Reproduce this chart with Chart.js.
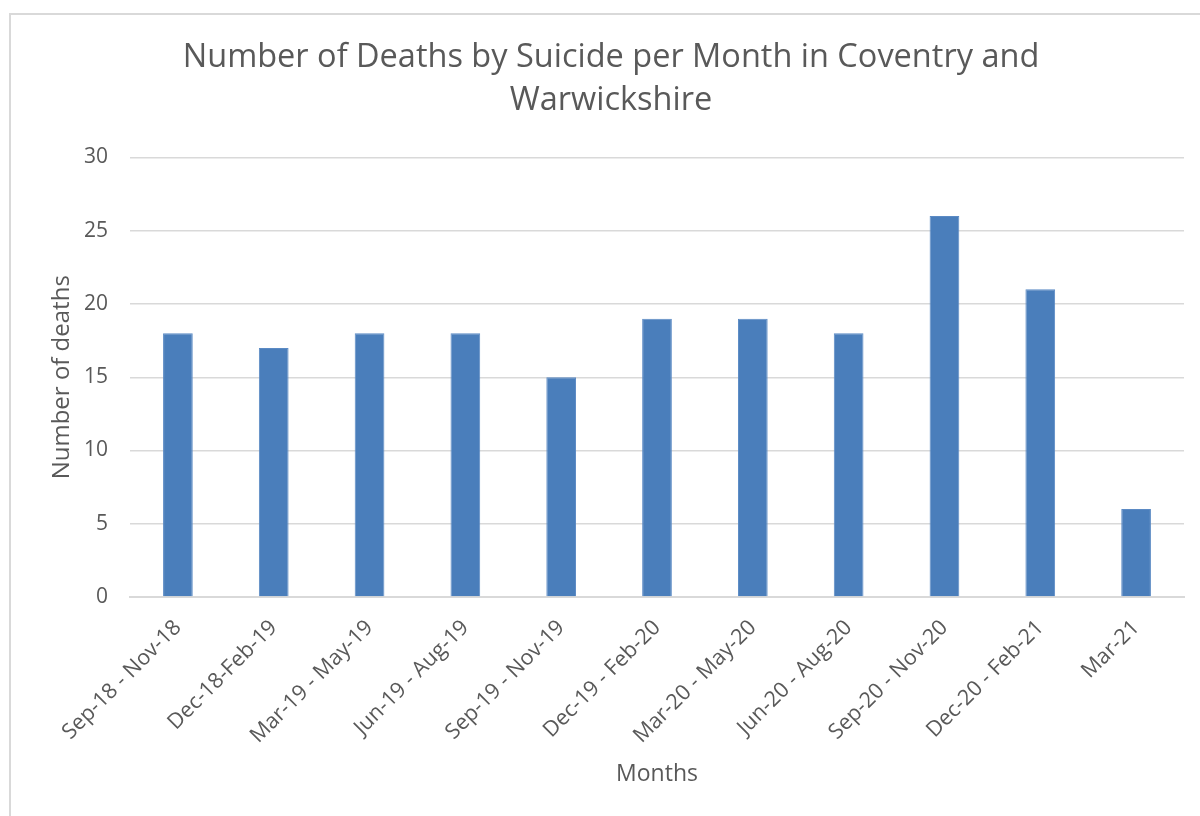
<!DOCTYPE html>
<html>
<head>
<meta charset="utf-8">
<script src="https://cdn.jsdelivr.net/npm/chart.js@4/dist/chart.umd.min.js"></script>
<style>
  html, body { margin: 0; padding: 0; background: #ffffff; }
  #wrap { position: relative; width: 1200px; height: 816px; overflow: hidden; background: #fff; }
  #frame { position: absolute; left: 9px; top: 13px; width: 1300px; height: 900px; border-left: 2px solid #d9d9d9; border-top: 2px solid #d9d9d9; }
  canvas { position: absolute; left: 0; top: 0; }
</style>
</head>
<body>
<div id="wrap">
  <div id="frame"></div>
  <canvas id="c" width="1200" height="816"></canvas>
</div>
<script>
const titleLines = ["Number of Deaths by Suicide per Month in Coventry and", "Warwickshire"];
const categories = ["Sep-18 - Nov-18", "Dec-18-Feb-19", "Mar-19 - May-19", "Jun-19 - Aug-19", "Sep-19 - Nov-19", "Dec-19 - Feb-20", "Mar-20 - May-20", "Jun-20 - Aug-20", "Sep-20 - Nov-20", "Dec-20 - Feb-21", "Mar-21"];
const deaths = [18, 17, 18, 18, 15, 19, 19, 18, 26, 21, 6];
const yTicks = [0, 5, 10, 15, 20, 25, 30];
const xAxisTitle = "Months";
const yAxisTitle = "Number of deaths";

const FONT = "'Open Sans', 'Noto Sans', sans-serif";
const GREY = "#595959";

new Chart(document.getElementById('c'), {
  type: 'bar',
  data: {
    labels: categories,
    datasets: [{
      label: 'Deaths',
      data: deaths,
      backgroundColor: '#4a7ebb',
      borderColor: '#5b8ac4',
      borderWidth: 1,
      categoryPercentage: 1.0,
      barPercentage: 0.31
    }]
  },
  options: {
    responsive: false,
    animation: false,
    devicePixelRatio: 1,
    layout: { padding: { left: 38, right: 16, top: 0, bottom: 0 } },
    plugins: {
      legend: { display: false },
      tooltip: { enabled: false },
      title: {
        display: true,
        text: titleLines,
        color: GREY,
        font: { family: FONT, size: 32.5, weight: 'normal', lineHeight: 1.3 },
        padding: { top: 37, bottom: 36 }
      }
    },
    scales: {
      x: {
        afterFit: (scale) => { scale.height = 219; },
        grid: { display: false, drawTicks: false },
        border: { display: true, color: '#d9d9d9', width: 2 },
        ticks: {
          color: GREY,
          font: { family: FONT, size: 21.5 },
          maxRotation: 45,
          minRotation: 45,
          autoSkip: false,
          padding: 18,
          labelOffset: 0
        },
        title: {
          display: true,
          text: xAxisTitle,
          color: GREY,
          font: { family: FONT, size: 23 },
          padding: { top: 0, bottom: 28 }
        }
      },
      y: {
        min: 0,
        max: 30,
        afterFit: (scale) => { scale.width = 92; },
        afterBuildTicks: (scale) => { scale.ticks = yTicks.map(v => ({ value: v })); },
        grid: { color: '#d9d9d9', lineWidth: 1.5, drawTicks: false },
        border: { display: false },
        ticks: {
          color: GREY,
          font: { family: FONT, size: 21 },
          padding: 22
        },
        title: {
          display: true,
          text: yAxisTitle,
          color: GREY,
          font: { family: FONT, size: 24 },
          padding: { top: 10, bottom: 0 }
        }
      }
    }
  }
});
</script>
</body>
</html>
